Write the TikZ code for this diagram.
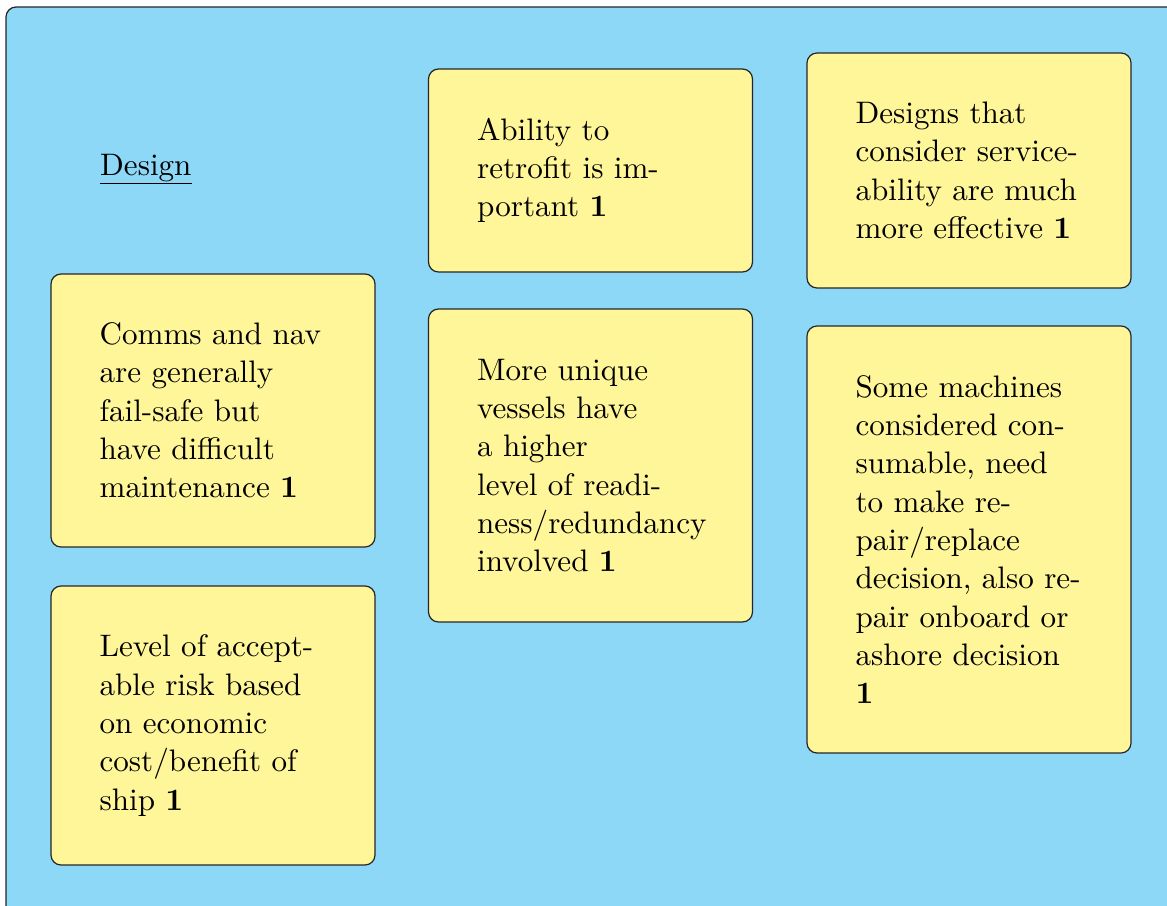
\documentclass[tikz,border=0pt]{standalone}
\usepackage{fix-cm}
\usepackage{fontspec}
% keep the 10pt design of Latin Modern at every size
\setmainfont{lmroman10-regular}[Extension=.otf, BoldFont=lmroman10-bold, ItalicFont=lmroman10-italic, BoldItalicFont=lmroman10-bolditalic]
\definecolor{boardblue}{RGB}{141,215,247}
\definecolor{cardyellow}{RGB}{255,246,154}
\newcommand{\cardfont}{\fontsize{31.1}{38.3}\selectfont}
\tikzset{
  board/.style={draw=black!85, fill=boardblue, rounded corners=10pt, line width=1.2pt},
  card/.style={draw=black!85, fill=cardyellow, rounded corners=10pt, line width=1.2pt,
    inner sep=0pt, minimum width=324pt},
  cardtext/.style={anchor=west, text width=240pt, align=left, inner sep=0pt, font=\cardfont},
}
\begin{document}
\begin{tikzpicture}[x=1pt, y=-1pt]
  \useasboundingbox (0,0) rectangle (1167,905);
  % background board, running off the right and bottom edges
  \fill[boardblue] (6,7) [rounded corners=10pt] rectangle (1190,930);
  \draw[black!85, line width=1.2pt, rounded corners=10pt] (1190,7) -- (6,7) -- (6,930);

  % heading
  \node[anchor=base west, inner sep=0pt, font=\cardfont] (title) at (100,175) {\underline{Design}};

  % left column
  \node[card, minimum height=273pt] (comms) at (213,410.5) {};
  \node[cardtext] (commstext) at ([xshift=49pt]comms.west)
    {Comms and nav\\are generally\\fail-safe but\\have difficult\\maintenance \textbf{1}};

  \node[card, minimum height=279pt] (risk) at (213,725.5) {};
  \node[cardtext] (risktext) at ([xshift=49pt]risk.west)
    {Level of accept-\\able risk based\\on economic\\cost/benefit of\\ship \textbf{1}};

  % middle column
  \node[card, minimum height=203pt] (retro) at (590.5,170.5) {};
  \node[cardtext] (retrotext) at ([xshift=49pt]retro.west)
    {Ability to\\retrofit is im-\\portant \textbf{1}};

  \node[card, minimum height=313pt] (unique) at (590.5,465.5) {};
  \node[cardtext] (uniquetext) at ([xshift=49pt]unique.west)
    {More unique\\vessels have\\a higher\\level of readi-\\ness/redundancy\\involved \textbf{1}};

  % right column
  \node[card, minimum height=235pt] (service) at (969,170.5) {};
  \node[cardtext] (servicetext) at ([xshift=49pt]service.west)
    {Designs that\\consider service-\\ability are much\\more effective \textbf{1}};

  \node[card, minimum height=427pt] (consum) at (969,539.5) {};
  \node[cardtext] (consumtext) at ([xshift=49pt]consum.west)
    {Some machines\\considered con-\\sumable, need\\to make re-\\pair/replace\\decision, also re-\\pair onboard or\\ashore decision\\\textbf{1}};
\end{tikzpicture}
\end{document}
